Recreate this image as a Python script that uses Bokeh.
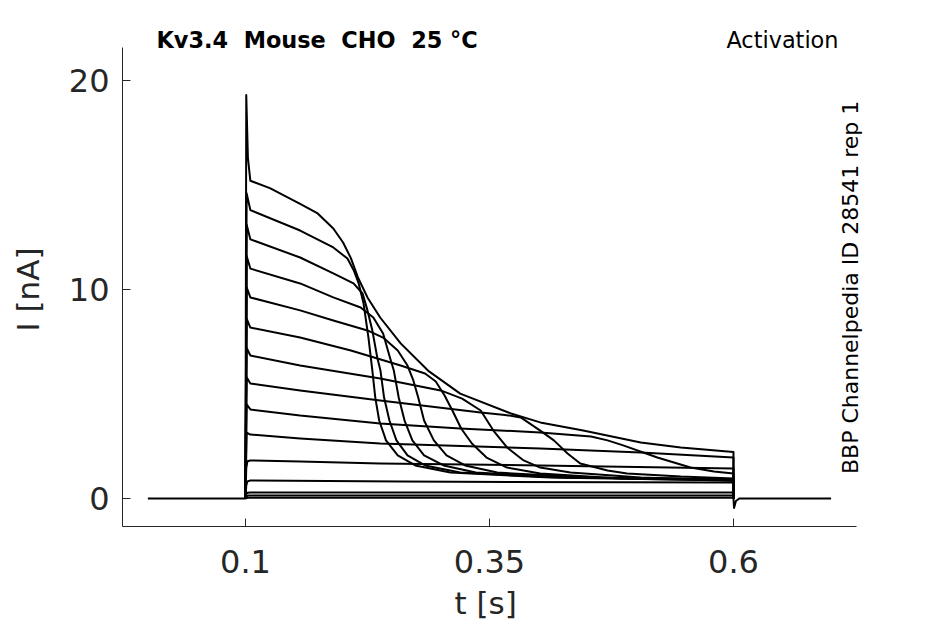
from bokeh.plotting import figure
from bokeh.models import Label, Range1d, FixedTicker, LinearAxis
from bokeh.embed import file_html
from bokeh.resources import INLINE

# --- data (t in s, I in nA) ---
base_t = [0.0, 0.1]
base_i = [0.0, 0.0]

tail_t = [0.6, 0.6006, 0.6025, 0.606, 0.7]
tail_i = [0.0, -0.45, -0.12, 0.0, 0.0]

# trace 1: largest step, slow envelope decay
t_1 = [0.1, 0.1008, 0.1025, 0.105, 0.125, 0.156, 0.174, 0.190, 0.200, 0.208, 0.215, 0.225, 0.238, 0.259, 0.287, 0.320, 0.372, 0.402, 0.446, 0.505, 0.546, 0.6, 0.6]
i_1 = [0.0, 19.3, 16.3, 15.2, 14.85, 14.1, 13.64, 12.92, 12.25, 11.5, 10.6, 9.62, 8.66, 7.42, 6.12, 5.02, 4.07, 3.64, 3.25, 2.68, 2.44, 2.22, 0.0]

t_2 = [0.1, 0.1012, 0.105, 0.156, 0.190, 0.2045, 0.211, 0.216, 0.221, 0.226, 0.230, 0.233, 0.237, 0.244, 0.256, 0.274, 0.310, 0.412, 0.6, 0.6]
i_2 = [0.0, 14.6, 13.8, 12.82, 12.01, 11.48, 10.91, 10.29, 9.33, 7.70, 6.12, 4.83, 3.73, 2.78, 2.06, 1.58, 1.24, 1.00, 0.86, 0.0]

t_3 = [0.1, 0.1012, 0.105, 0.156, 0.190, 0.2107, 0.220, 0.225, 0.230, 0.235, 0.2383, 0.242, 0.2475, 0.2547, 0.266, 0.284, 0.320, 0.423, 0.6, 0.6]
i_3 = [0.0, 13.1, 12.4, 11.53, 10.77, 10.29, 9.81, 9.00, 8.04, 6.75, 6.12, 4.83, 3.73, 2.78, 2.06, 1.58, 1.24, 1.00, 0.91, 0.0]

t_4 = [0.1, 0.1012, 0.105, 0.156, 0.190, 0.218, 0.231, 0.241, 0.248, 0.252, 0.257, 0.263, 0.271, 0.283, 0.303, 0.336, 0.433, 0.6, 0.6]
i_4 = [0.0, 11.6, 11.0, 10.29, 9.62, 9.14, 8.66, 7.89, 6.75, 6.12, 4.83, 3.73, 2.78, 2.06, 1.58, 1.24, 1.00, 0.91, 0.0]

t_5 = [0.1, 0.1012, 0.105, 0.156, 0.190, 0.225, 0.241, 0.256, 0.266, 0.272, 0.277, 0.283, 0.293, 0.306, 0.325, 0.358, 0.454, 0.6, 0.6]
i_5 = [0.0, 10.1, 9.62, 9.00, 8.52, 8.04, 7.70, 7.08, 6.36, 5.65, 4.83, 3.73, 2.78, 2.06, 1.58, 1.24, 1.00, 0.91, 0.0]

t_6 = [0.1, 0.1012, 0.105, 0.156, 0.208, 0.259, 0.284, 0.295, 0.304, 0.312, 0.321, 0.332, 0.347, 0.368, 0.402, 0.484, 0.6, 0.6]
i_6 = [0.0, 8.6, 8.18, 7.70, 7.08, 6.36, 5.98, 5.60, 4.93, 4.21, 3.35, 2.63, 1.96, 1.48, 1.20, 0.96, 0.86, 0.0]

t_7 = [0.1, 0.1012, 0.105, 0.156, 0.238, 0.300, 0.322, 0.341, 0.354, 0.368, 0.385, 0.402, 0.433, 0.505, 0.6, 0.6]
i_7 = [0.0, 7.2, 6.84, 6.36, 5.74, 5.17, 4.78, 4.21, 3.25, 2.44, 1.82, 1.48, 1.24, 1.00, 0.86, 0.0]

t_8 = [0.1, 0.1012, 0.105, 0.156, 0.238, 0.341, 0.366, 0.382, 0.402, 0.416, 0.430, 0.443, 0.471, 0.491, 0.546, 0.6, 0.6]
i_8 = [0.0, 5.8, 5.50, 5.17, 4.69, 4.11, 4.00, 3.88, 3.25, 2.78, 2.15, 1.67, 1.34, 1.20, 1.05, 0.96, 0.0]

t_9 = [0.1, 0.1012, 0.105, 0.156, 0.238, 0.320, 0.402, 0.454, 0.471, 0.487, 0.522, 0.556, 0.580, 0.6, 0.6]
i_9 = [0.0, 4.5, 4.26, 3.97, 3.59, 3.35, 3.16, 2.97, 2.78, 2.54, 1.96, 1.48, 1.29, 1.20, 0.0]

t_10 = [0.1, 0.1012, 0.105, 0.156, 0.238, 0.402, 0.505, 0.6, 0.6]
i_10 = [0.0, 3.15, 3.06, 2.87, 2.63, 2.39, 2.20, 1.96, 0.0]

t_11 = [0.1, 0.1008, 0.102, 0.105, 0.156, 0.238, 0.402, 0.6, 0.6]
i_11 = [0.0, 1.45, 1.78, 1.82, 1.77, 1.67, 1.58, 1.44, 0.0]

t_12 = [0.1, 0.1008, 0.102, 0.105, 0.259, 0.6, 0.6]
i_12 = [0.0, 0.62, 0.82, 0.86, 0.81, 0.76, 0.0]

t_13 = [0.1, 0.1008, 0.102, 0.105, 0.6, 0.6]
i_13 = [0.0, 0.2, 0.27, 0.29, 0.29, 0.0]

t_14 = [0.1, 0.1008, 0.103, 0.6, 0.6]
i_14 = [0.0, 0.1, 0.14, 0.14, 0.0]

t_15 = [0.1, 0.103, 0.6, 0.6]
i_15 = [0.0, 0.04, 0.04, 0.0]

traces = [(t_1, i_1), (t_2, i_2), (t_3, i_3), (t_4, i_4), (t_5, i_5),
          (t_6, i_6), (t_7, i_7), (t_8, i_8), (t_9, i_9), (t_10, i_10),
          (t_11, i_11), (t_12, i_12), (t_13, i_13), (t_14, i_14), (t_15, i_15)]

x_ticks = [0.1, 0.35, 0.6]
y_ticks = [0, 10, 20]
x_axis_span = (-0.026, 0.726)
y_axis_span = (-1.34, 21.58)

FONT = "DejaVu Sans"
INK = "#262626"
W, H = 945, 624

# the frame reaches a little above / right of the axes so the header
# texts are not clipped; the axis lines themselves are bounded
p = figure(width=W, height=H, output_backend="svg", toolbar_location=None,
           x_range=Range1d(-0.026, 0.7322), y_range=Range1d(-1.34, 22.87),
           min_border_left=122, min_border_right=83, min_border_top=20,
           min_border_bottom=98)
p.outline_line_color = None
p.grid.visible = False

p.line(base_t, base_i, line_color="black", line_width=2)
for tt, ii in traces:
    p.line(tt, ii, line_color="black", line_width=2, line_join="round")
p.line(tail_t, tail_i, line_color="black", line_width=2, line_join="round")

p.xaxis.ticker = FixedTicker(ticks=x_ticks)
p.yaxis.ticker = FixedTicker(ticks=y_ticks)
p.xaxis.bounds = x_axis_span
p.yaxis.bounds = y_axis_span
p.xaxis.major_label_overrides = {0.1: "0.1", 0.35: "0.35", 0.6: "0.6"}

for ax in (p.xaxis, p.yaxis):
    ax.axis_line_color = INK
    ax.major_tick_line_color = INK
    ax.major_tick_in = 8
    ax.major_tick_out = 0
    ax.minor_tick_line_color = None
    ax.major_label_text_font = FONT
    ax.major_label_text_font_size = "32px"
    ax.major_label_text_color = INK

p.xaxis.major_label_standoff = 23
p.yaxis.major_label_standoff = 13

# axis titles are carried by label-only axes so that they sit centred on
# the bounded axis lines rather than on the taller/wider frame
x_label_axis = LinearAxis(ticker=FixedTicker(ticks=[0.346]),
                          major_label_overrides={0.346: "t [s]"},
                          axis_line_color=None, major_tick_line_color=None,
                          minor_tick_line_color=None, major_label_standoff=3,
                          major_label_text_font=FONT,
                          major_label_text_font_size="31px",
                          major_label_text_color=INK)
p.add_layout(x_label_axis, "below")

y_label_axis = LinearAxis(ticker=FixedTicker(ticks=[10]),
                          major_label_overrides={10: "I [nA]"},
                          major_label_orientation="vertical",
                          axis_line_color=None, major_tick_line_color=None,
                          minor_tick_line_color=None, major_label_standoff=13,
                          major_label_text_font=FONT,
                          major_label_text_font_size="31px",
                          major_label_text_color=INK)
p.add_layout(y_label_axis, "left")

p.add_layout(Label(x=0.0088, y=21.925,
                   text="Kv3.4\u00a0 Mouse\u00a0 CHO\u00a0 25 °C",
                   text_font=FONT, text_font_style="bold", text_font_size="22.4px",
                   text_color="black", text_baseline="alphabetic"))
p.add_layout(Label(x=0.7076, y=21.925, text="Activation",
                   text_font=FONT, text_font_size="22.4px", text_color="black",
                   text_align="right", text_baseline="alphabetic"))
p.add_layout(Label(x=0.7199, y=10.1, text="BBP Channelpedia ID 28541 rep 1",
                   angle=90, angle_units="deg",
                   text_font=FONT, text_font_size="22px", text_color="black",
                   text_align="center", text_baseline="middle"))

open("out.html", "w").write(file_html(p, INLINE))
